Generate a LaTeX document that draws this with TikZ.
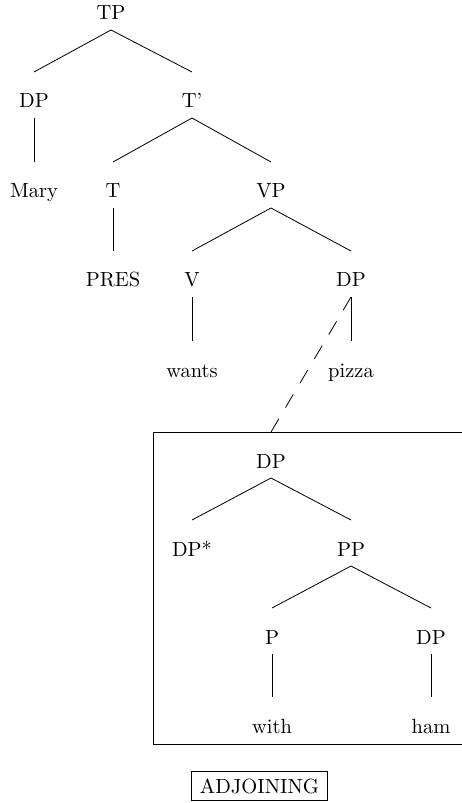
\documentclass[tikz,border=0pt]{standalone}
\usetikzlibrary{calc}
\begin{document}
\begin{tikzpicture}[x=0.4878pt,y=-0.4878pt,
  lbl/.style={anchor=base,inner sep=0pt},
  tag/.style={draw,anchor=base,inner xsep=4.2pt,inner ysep=3.4pt},
  attach/.style={dash pattern=on 7.5pt off 6.3pt}]
\useasboundingbox (0,0) rectangle (461,803);
% branch from a mother label down to a daughter label
\newcommand\treeedge[2]{\draw ($(#1.base)+(0,10)$) -- ($(#2.base)+(0,-36)$);}

% main tree
\node[lbl] (tp)    at (111,20)  {TP};
\node[lbl] (dpa)   at (34,108)  {DP};
\node[lbl] (tbar)  at (192,108) {T'};
\node[lbl] (mary)  at (34,198)  {Mary};
\node[lbl] (t)     at (113,198) {T};
\node[lbl] (vp)    at (271,198) {VP};
\node[lbl] (pres)  at (113,287) {PRES};
\node[lbl] (v)     at (192,287) {V};
\node[lbl] (dpb)   at (351,287) {DP};
\node[lbl] (wants) at (192,377) {wants};
\node[lbl] (pizza) at (351,377) {pizza};

\treeedge{tp}{dpa}
\treeedge{tp}{tbar}
\treeedge{dpa}{mary}
\treeedge{tbar}{t}
\treeedge{tbar}{vp}
\treeedge{t}{pres}
\treeedge{vp}{v}
\treeedge{vp}{dpb}
\treeedge{v}{wants}
\treeedge{dpb}{pizza}

% auxiliary tree in its frame
\draw (153,432) coordinate (frametop) rectangle (475,744);
\node[lbl] (dpc)  at (271,468) {DP};
\node[lbl] (dpst) at (192,556) {DP*};
\node[lbl] (pp)   at (351,556) {PP};
\node[lbl] (p)    at (272,644) {P};
\node[lbl] (dpd)  at (431,644) {DP};
\node[lbl] (with) at (272,733) {with};
\node[lbl] (ham)  at (431,733) {ham};

\treeedge{dpc}{dpst}
\treeedge{dpc}{pp}
\treeedge{pp}{p}
\treeedge{pp}{dpd}
\treeedge{p}{with}
\treeedge{dpd}{ham}

% adjunction site
\draw[attach] ($(dpb.base)+(0,10)$) -- (frametop -| dpc.base);

\node[tag] (op) at (259.5,793) {ADJOINING};
\end{tikzpicture}
\end{document}
